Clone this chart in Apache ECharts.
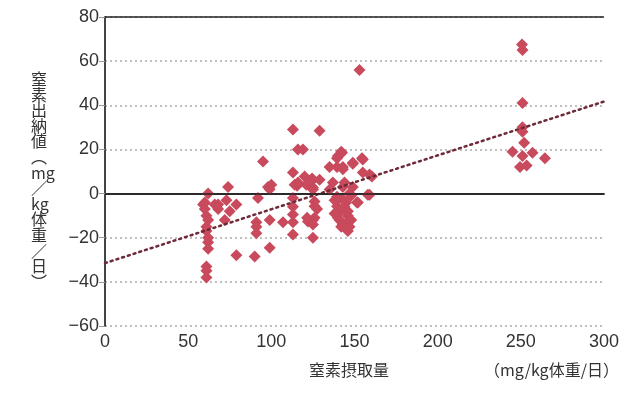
<!DOCTYPE html>
<html>
<head>
<meta charset="utf-8">
<script src="https://cdn.jsdelivr.net/npm/echarts@6/dist/echarts.min.js"></script>
<style>
  html, body { margin: 0; padding: 0; background: #fff; }
  #chart { width: 640px; height: 397px; }
</style>
</head>
<body>
<div id="chart"></div>
<script>
// 窒素摂取量 (mg/kg体重/日)
const intake = [
  62, 59, 60, 61, 62, 61, 62, 62, 61, 61, 61, 60, 61, 62,
  68, 68, 66, 74, 73, 75, 72, 79, 79,
  90, 91, 91, 91, 92, 95, 99, 99, 98, 100, 99,
  107, 113, 113, 114, 113, 113, 116, 113, 113, 113, 119, 120, 115.5, 121, 122, 116,
  124.5, 125, 126, 126, 126, 125, 129, 129, 125, 125, 127.5, 125, 125, 121.5,
  135, 135, 139.5, 143, 142, 140, 142.5, 139.5, 149, 149, 143, 143, 149, 139.5, 143, 140,
  141, 139.5, 141, 141, 145.5, 147, 146, 151.5, 152, 138, 144, 146, 142, 138, 147, 144, 137, 145,
  143, 140, 146, 148,
  153, 154.5, 155, 155, 159, 160.5, 159, 148, 158,
  250.7, 251, 251, 251, 251, 252, 245, 251, 257, 264.5, 249.5, 253.5
];
// 窒素出納値 (mg/kg体重/日)
const balance = [
  0, -5, -7, -10, -12, -15, -20, -25, -33, -35, -38, -4, -17, -22,
  -5, -7, -5, 3, -3, -8, -12, -5, -28,
  -28.5, -13, -15, -18, -2, 14.5, -24.5, -12, 3, 4, 2,
  -13, 29, 9.5, 4, -13, -18.5, 20, -2, -6, -9.5, 20, 7.7, 3.6, 4, -12.7, 5,
  6.8, 2.7, -3.6, -5.8, -11, -20, 28.5, 6.3, 6.3, 1.8, -7, -12, -14, -11,
  1.8, 12, 12, 12, 19, 17, 18.5, 16, 14, 13.5, 11, 3, 3, -1.4, -2.7, -2.7,
  -7, -5.8, -8.6, -12, -13, -15, -17, -4, -4, -9, -6, -10, -15, -3, 0, 5, 5, -4,
  -14, -11, -8, -1,
  56, 16, 15.4, 9.5, 8.6, 7.7, -0.5, -12, -0.5,
  67.5, 65, 41, 30, 28, 23, 19, 17, 18.5, 16, 12, 12.7
];
// 回帰直線の両端
const trendX = [0, 300];
const trendY = [-31.5, 41.7];

const xTicks = [0, 50, 100, 150, 200, 250, 300];

const points = intake.map((x, i) => [x, balance[i]]);
const trend = trendX.map((x, i) => [x, trendY[i]]);

const chart = echarts.init(document.getElementById('chart'));
const labelFont = 'Liberation Sans, Arial, sans-serif';
const cjkFont = '"Noto Sans CJK JP", sans-serif';

chart.setOption({
  animation: false,
  grid: { left: 105, right: 36, top: 17, bottom: 71 },
  xAxis: {
    type: 'value',
    min: 0, max: 300, interval: 50,
    axisLine: { show: true, lineStyle: { color: '#444', width: 2 } },
    axisTick: { show: false },
    splitLine: { show: false },
    axisLabel: {
      color: '#333', fontSize: 18, fontFamily: labelFont, margin: 7,
      formatter: v => xTicks.includes(v) ? String(v) : ''
    }
  },
  yAxis: {
    type: 'value',
    min: -60, max: 80, interval: 20,
    axisLine: { show: true, onZero: false, lineStyle: { color: '#444', width: 2 } },
    axisTick: { show: true, length: 6, lineStyle: { color: '#999' } },
    splitLine: { show: true, lineStyle: { color: '#aaa', type: [2, 3], width: 1.5 } },
    axisLabel: {
      color: '#333', fontSize: 18, fontFamily: labelFont, margin: 6,
      formatter: v => v < 0 ? '\u2212' + Math.abs(v) : String(v)
    }
  },
  series: [
    {
      type: 'line',
      data: [],
      silent: true,
      z: 1,
      markLine: {
        silent: true,
        symbol: ['none', 'none'],
        label: { show: false },
        lineStyle: { color: '#222', type: 'solid', width: 1.5 },
        data: [{ yAxis: 0 }, { yAxis: 80 }]
      }
    },
    {
      type: 'scatter',
      data: points,
      symbol: 'diamond',
      symbolSize: 12,
      itemStyle: { color: '#c84a5c', opacity: 1 },
      z: 3
    },
    {
      type: 'line',
      data: trend,
      symbol: 'none',
      silent: true,
      lineStyle: { color: '#6e2a38', width: 2.5, type: [2, 4], cap: 'round' },
      z: 4
    }
  ],
  graphic: [
    {
      type: 'text',
      left: 31, top: 71,
      style: {
        text: '窒\n素\n出\n納\n値\n︵\nmg\n／\nkg\n体\n重\n／\n日\n︶',
        font: '16px ' + cjkFont,
        fill: '#333',
        align: 'center',
        lineHeight: 15.6
      }
    },
    {
      type: 'text',
      left: 309, top: 362,
      style: { text: '窒素摂取量', font: '16px ' + cjkFont, fill: '#333' }
    },
    {
      type: 'text',
      left: 484, top: 362,
      style: { text: '（mg/kg体重/日）', font: '16px ' + cjkFont, fill: '#333' }
    }
  ]
});
</script>
</body>
</html>
